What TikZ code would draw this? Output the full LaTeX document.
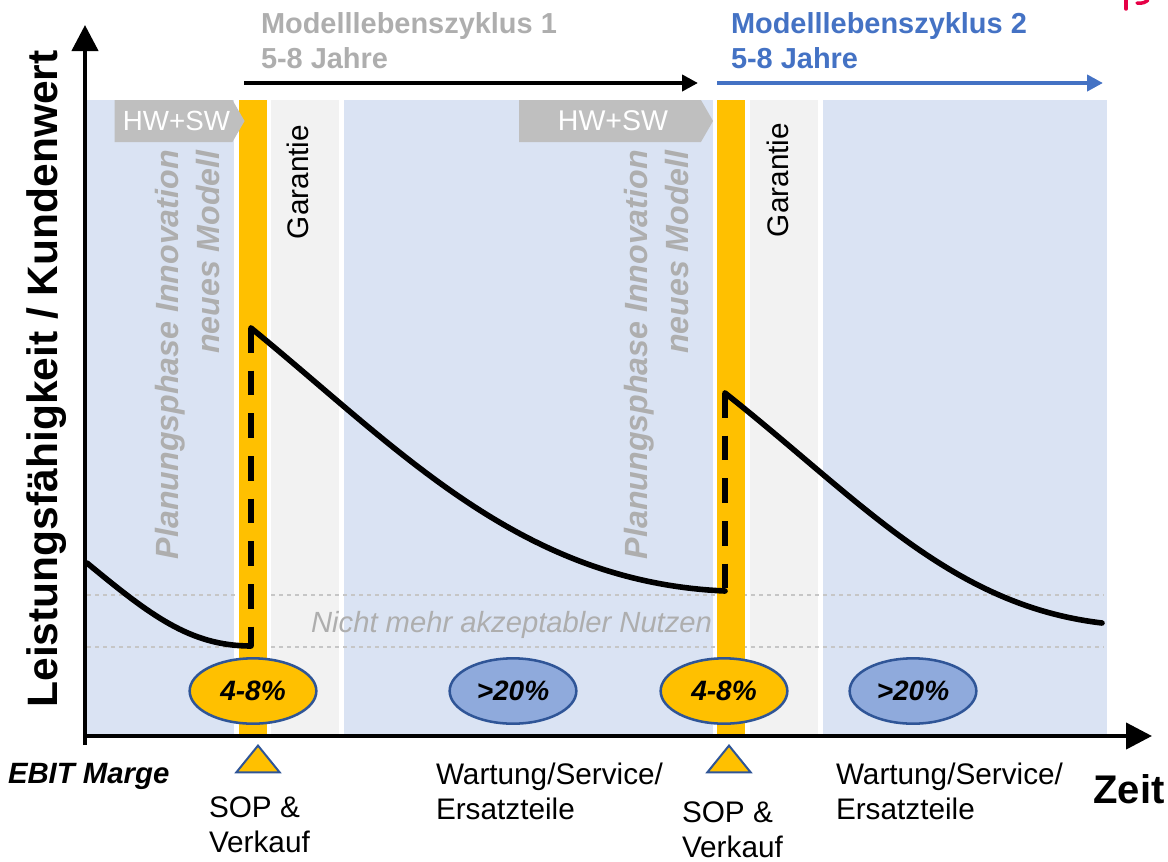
\documentclass[tikz,border=0pt]{standalone}
\usepackage{fontspec}
\setmainfont{Liberation Sans}
\usepackage{xcolor}
\usetikzlibrary{shapes.geometric, shapes.symbols, arrows.meta, positioning}
\definecolor{phase_blue}{RGB}{218, 227, 243}
\definecolor{sop_orange}{RGB}{255, 192, 0}
\definecolor{warranty_gray}{RGB}{242, 242, 242}
\definecolor{label_gray}{RGB}{174, 174, 174}
\definecolor{hw_gray}{RGB}{191, 191, 191}
\definecolor{cycle_blue}{RGB}{68, 114, 196}
\definecolor{margin_blue}{RGB}{143, 170, 220}
\definecolor{edge_blue}{RGB}{47, 85, 151}
\definecolor{logo_red}{RGB}{230, 0, 70}
\tikzset{
  band/.style={fill=#1, draw=none},
  plain/.style={inner sep=0pt, outer sep=0pt, font=\fontsize{22.3}{26.2}\selectfont, align=left},
  cycle/.style={plain, font=\fontsize{21.7}{26.2}\selectfont\bfseries},
  margin/.style={ellipse, draw=edge_blue, line width=1.9pt, minimum width=95pt, minimum height=49pt, inner sep=0pt, font=\fontsize{21}{24}\selectfont\bfseries\itshape},
  hwsw/.style={signal, signal to=east, signal pointer angle=120, fill=hw_gray, text=white, inner sep=0pt, minimum height=31.5pt, font=\fontsize{20.8}{24}\selectfont},
  planning/.style={rotate=90, anchor=north east, inner sep=0pt, align=right, text=label_gray, font=\fontsize{24.1}{30.5}\selectfont\bfseries\itshape},
  sopmark/.style={isosceles triangle, isosceles triangle apex angle=78, shape border rotate=90, fill=sop_orange, draw=edge_blue, line width=1.5pt, inner sep=0pt, minimum height=20pt, anchor=apex},
  axis/.style={line width=3.2pt, -{Triangle[length=19.5pt,width=19.5pt]}},
  curve/.style={line width=4.2pt, line cap=round, line join=round},
  stem/.style={line width=4.2pt, dash pattern=on 18.5pt off 13.5pt},
}
\begin{document}
\begin{tikzpicture}[x=0.75pt, y=-0.75pt]
\useasboundingbox (0,0) rectangle (1168,861);

% Bands
\fill[band=phase_blue] (87,100) rectangle (234,735);
\fill[band=warranty_gray] (271,100) rectangle (339,735);
\fill[band=phase_blue] (344,100) rectangle (713,735);
\fill[band=warranty_gray] (750,100) rectangle (818,735);
\fill[band=phase_blue] (823,100) rectangle (1107,735);

% Limit lines
\draw[label_gray!70, line width=0.9pt, dashed] (87,595) -- (1104,595);
\draw[label_gray!70, line width=0.9pt, dashed] (87,647) -- (1104,647);
\fill[band=sop_orange] (239,100) rectangle (267,735);
\fill[band=sop_orange] (717,100) rectangle (745,735);
\node[plain, text=label_gray, font=\fontsize{21.9}{26}\selectfont\itshape, anchor=east] (limit) at (712,625) {Nicht mehr akzeptabler Nutzen};

% Axes
\coordinate (origin) at (85,745);
\coordinate (ytop) at (85,25);
\coordinate (xstart) at (85,736);
\coordinate (xend) at (1152,736);
\draw[axis] (origin) -- (ytop);
\draw[axis] (xstart) -- (xend);
\node[rotate=90, inner sep=0pt, font=\fontsize{31.9}{36}\selectfont\bfseries] (yaxis) at (47,379) {Leistungsfähigkeit / Kundenwert};
\node[plain, font=\fontsize{30}{34}\selectfont\bfseries] (time) at (1129,789) {Zeit};
\node[plain, font=\fontsize{22}{26}\selectfont\bfseries\itshape, anchor=west] (ebit) at (8,776) {EBIT Marge};

% Life cycles
\node[cycle, text=label_gray, anchor=north west] (cycleA) at (261,13) {Modelllebenszyklus 1\\5-8 Jahre};
\node[cycle, text=cycle_blue, anchor=north west] (cycleB) at (731,13) {Modelllebenszyklus 2\\5-8 Jahre};
\coordinate (cycleAstart) at (244,83);
\coordinate (cycleAend) at (698,83);
\coordinate (cycleBstart) at (717,83);
\coordinate (cycleBend) at (1103,83);
\draw[line width=3.4pt, -{Triangle[length=12pt,width=12pt]}] (cycleAstart) -- (cycleAend);
\draw[cycle_blue, line width=3.4pt, -{Triangle[length=12pt,width=12pt]}] (cycleBstart) -- (cycleBend);

% HW+SW
\node[hwsw, minimum width=97.5pt, anchor=center] (hwA) at (173.5,121) {\hspace{4.5pt}\raisebox{-1.5pt}{HW+SW}};
\node[hwsw, minimum width=145.5pt, anchor=center, font=\fontsize{21.4}{24}\selectfont] (hwB) at (610,121) {\hspace{4.5pt}\raisebox{-1.5pt}{HW+SW}};

% Phase labels
\node[planning] (planA) at (155,150) {Planungsphase Innovation\\neues Modell};
\node[planning] (planB) at (624,150) {Planungsphase Innovation\\neues Modell};
\node[plain, rotate=90, anchor=center] (warrantyA) at (298,182) {Garantie};
\node[plain, rotate=90, anchor=center] (warrantyB) at (778,180) {Garantie};

% Value curves
\coordinate (startA) at (87,563);
\coordinate (lowA) at (251,646);
\coordinate (peakA) at (251,328);
\coordinate (lowB) at (725,591);
\coordinate (peakB) at (725,393);
\coordinate (endB) at (1102,623);
\draw[curve] (startA) .. controls (150,615) and (190,646) .. (lowA);
\draw[curve] (peakA) .. controls (400,450) and (520,582) .. (lowB);
\draw[curve] (peakB) .. controls (860,500) and (950,605) .. (endB);
\draw[stem] (peakA) -- (lowA);
\draw[stem] (peakB) -- (lowB);

% Margins
\node[margin, fill=sop_orange] (marginA) at (253,691) {4-8\%};
\node[margin, fill=margin_blue] (marginB) at (513,691) {>20\%};
\node[margin, fill=sop_orange] (marginC) at (724,691) {4-8\%};
\node[margin, fill=margin_blue] (marginD) at (913,691) {>20\%};

% SOP marks
\node[sopmark] (markA) at (258,744) {};
\node[sopmark] (markB) at (729,744) {};
\node[plain, anchor=north west] (sopA) at (209,797) {SOP \&\\Verkauf};
\node[plain, anchor=north west] (sopB) at (682,802) {SOP \&\\Verkauf};
\node[plain, anchor=north west] (serviceA) at (436,763) {Wartung/Service/\\Ersatzteile};
\node[plain, anchor=north west] (serviceB) at (836,763) {Wartung/Service/\\Ersatzteile};

% Logo remnant
\draw[logo_red, line width=2.6pt, line cap=round] (1126,0) -- (1126,9);
\draw[logo_red, line width=2.6pt, line cap=round] (1137,3) .. controls (1142,4) and (1146,2) .. (1148,0);
\end{tikzpicture}
\end{document}
